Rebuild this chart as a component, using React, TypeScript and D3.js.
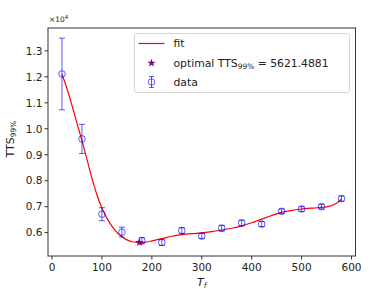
import React from "react";
import * as d3 from "d3";

// measured points (T_f, TTS99%, error)
const dataX = [20, 60, 100, 140, 180, 220, 260, 300, 340, 380, 420, 460, 500, 540, 580];
const dataY = [12110, 9610, 6710, 6020, 5690, 5620, 6080, 5870, 6170, 6370, 6330, 6820, 6910, 7000, 7310];
const dataErr = [1380, 560, 250, 190, 120, 110, 110, 100, 110, 110, 100, 90, 90, 90, 100];

// fitted curve
const fitX = [20, 30, 40, 50, 60, 70, 80, 90, 100, 110, 120, 130, 140, 150, 160, 175, 190, 200, 220, 240, 260, 280, 300, 320, 340, 360, 380, 400, 420, 440, 460, 480, 500, 520, 540, 555, 570, 580];
const fitY = [12100, 11550, 10900, 10220, 9540, 8830, 8100, 7460, 6950, 6560, 6250, 6010, 5840, 5720, 5650, 5621, 5640, 5680, 5770, 5860, 5920, 5960, 5990, 6040, 6100, 6170, 6260, 6380, 6520, 6660, 6780, 6860, 6910, 6940, 6970, 7010, 7130, 7300];

const optX = 175;
const optY = 5621.4881;

const xTicks = [0, 100, 200, 300, 400, 500, 600];
const yTicks = [6000, 7000, 8000, 9000, 10000, 11000, 12000, 13000];

const W = 383;
const H = 289;
const m = { left: 48, right: 355.5, top: 28, bottom: 256 };
const font = "DejaVu Sans, sans-serif";
const blue = "rgba(0,0,255,0.65)";

export default function App() {
  const x = d3.scaleLinear().domain([-8, 608]).range([m.left, m.right]);
  const y = d3.scaleLinear().domain([5100, 13880]).range([m.bottom, m.top]);

  const fitLine = d3.line<number>()
    .x((d, i) => x(fitX[i]))
    .y(d => y(d))
    .curve(d3.curveCatmullRom);

  const star = d3.symbol().type(d3.symbolStar).size(22)();

  const lx = 134.5, ly = 33.5;

  return (
    <svg width={W} height={H} style={{ position: "absolute", left: 0, top: 0 }} fontFamily={font}>
      <rect width={W} height={H} fill="white" />
      {/* fit */}
      <path d={fitLine(fitY) ?? ""} fill="none" stroke="red" strokeWidth={1.2} />
      {/* data with error bars */}
      {dataX.map((dx, i) => {
        const cx = x(dx);
        const y1 = y(dataY[i] + dataErr[i]);
        const y2 = y(dataY[i] - dataErr[i]);
        return (
          <g key={i} stroke={blue} fill="none" strokeWidth={1}>
            <line x1={cx} x2={cx} y1={y1} y2={y2} />
            <line x1={cx - 3} x2={cx + 3} y1={y1} y2={y1} />
            <line x1={cx - 3} x2={cx + 3} y1={y2} y2={y2} />
            <circle cx={cx} cy={y(dataY[i])} r={3.3} />
          </g>
        );
      })}
      <path d={star ?? ""} transform={`translate(${x(optX)},${y(optY)})`} fill="purple" />
      {/* axes frame */}
      <rect x={m.left} y={m.top} width={m.right - m.left} height={m.bottom - m.top} fill="none" stroke="#333" strokeWidth={1} />
      {xTicks.map(t => (
        <g key={t}>
          <line x1={x(t)} x2={x(t)} y1={m.bottom} y2={m.bottom + 3.5} stroke="#333" />
          <text x={x(t)} y={m.bottom + 14.5} fontSize={10.5} textAnchor="middle" fill="#222">{t}</text>
        </g>
      ))}
      {yTicks.map(t => (
        <g key={t}>
          <line x1={m.left - 3.5} x2={m.left} y1={y(t)} y2={y(t)} stroke="#333" />
          <text x={m.left - 5.5} y={y(t) + 3.8} fontSize={10.5} textAnchor="end" fill="#222">{(t / 1e4).toFixed(1)}</text>
        </g>
      ))}
      <text x={m.left + 1} y={22} fontSize={7.5} fill="#222">
        ×10<tspan dy={-3} fontSize={5.5}>4</tspan>
      </text>
      {/* axis labels */}
      <text transform={`translate(14,${139}) rotate(-90)`} fontSize={11} textAnchor="middle" fill="#222">
        TTS<tspan dy={2} fontSize={7.5}>99%</tspan>
      </text>
      <text x={(m.left + m.right) / 2} y={286} fontSize={11} textAnchor="middle" fill="#222" fontStyle="italic">
        T<tspan dy={2} fontSize={7.5}>f</tspan>
      </text>
      {/* legend */}
      <rect x={lx} y={ly} width={215} height={59} rx={2} fill="white" fillOpacity={0.8} stroke="#ccc" strokeWidth={0.8} />
      <line x1={lx + 4} x2={lx + 30} y1={ly + 10} y2={ly + 10} stroke="red" strokeWidth={1.2} />
      <text x={lx + 39} y={ly + 13.8} fontSize={10.8} fill="#222">fit</text>
      <path d={star ?? ""} transform={`translate(${lx + 17},${ly + 29.5})`} fill="purple" />
      <text x={lx + 39} y={ly + 33.3} fontSize={10.8} fill="#222">
        optimal TTS<tspan dy={2} fontSize={7.5}>99%</tspan><tspan dy={-2}> = 5621.4881</tspan>
      </text>
      <g stroke={blue} fill="none">
        <line x1={lx + 17} x2={lx + 17} y1={ly + 43} y2={ly + 54} />
        <line x1={lx + 14.5} x2={lx + 19.5} y1={ly + 43} y2={ly + 43} />
        <line x1={lx + 14.5} x2={lx + 19.5} y1={ly + 54} y2={ly + 54} />
        <circle cx={lx + 17} cy={ly + 48.5} r={3.3} />
      </g>
      <text x={lx + 39} y={ly + 52.3} fontSize={10.8} fill="#222">data</text>
    </svg>
  );
}
